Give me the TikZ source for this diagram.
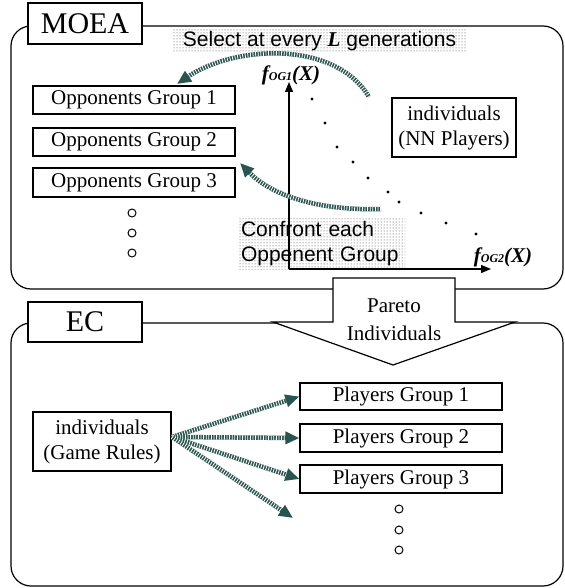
\documentclass[tikz,border=0pt]{standalone}
\usepackage{fontspec}
\setmainfont{Liberation Serif}
\setsansfont{Liberation Sans}
\usetikzlibrary{arrows.meta,patterns}
\definecolor{hatchc}{HTML}{2A554F}
\begin{document}
\begin{tikzpicture}[x=1pt,y=-1pt,
  frame/.style={draw, line width=1.2pt, rounded corners=20pt},
  box/.style={draw, line width=1.2pt, fill=white, inner sep=0pt, align=center,
    font=\fontsize{21}{25}\selectfont},
  title/.style={box, minimum width=114pt, minimum height=41pt, font=\fontsize{30}{32}\selectfont},
  grp/.style={box, minimum width=202pt, minimum height=28pt},
  ring/.style={draw, line width=1pt, circle, inner sep=0pt, minimum size=8pt},
  pdot/.style={fill, circle, inner sep=0pt, minimum size=3.4pt},
  dotted bg/.style={pattern=dots, pattern color=black!75, inner sep=1pt,
    font=\sffamily\fontsize{21}{25}\selectfont},
  axis/.style={line width=1.2pt, -{Triangle[length=10pt,width=8pt]}},
  flabel/.style={font=\bfseries\itshape\fontsize{21}{25}\selectfont, inner sep=0pt},
  harrow/.style={draw=hatchc, line width=4.5pt, -{Triangle[length=14pt,width=12pt]},
    postaction={draw=white, line width=4.5pt, dash pattern=on 0.8pt off 1.8pt, shorten >=14pt, -}}
]
\useasboundingbox (0,0) rectangle (564,588);

% ---------- MOEA part ----------
\draw[frame] (11,26) rectangle (563,289);
\node[title] (moea) at (85,23.5) {MOEA};

\node[dotted bg, minimum width=295pt, minimum height=24pt] (select) at (319.5,41)
  {Select at every {\rmfamily\bfseries\itshape L} generations};
\node[dotted bg, minimum width=166pt, minimum height=51pt, text width=162pt, align=left] (confront) at (322,243.5)
  {Confront each\\Oppenent Group};

\node[grp] (opp1) at (134,100) {Opponents Group 1};
\node[grp] (opp2) at (134,142) {Opponents Group 2};
\node[grp, minimum height=29pt] (opp3) at (134,182.5) {Opponents Group 3};
\node[ring] (oc1) at (132,213) {};
\node[ring] (oc2) at (132,233) {};
\node[ring] (oc3) at (132,253) {};

\node[box, minimum width=124pt, minimum height=59pt] (nn) at (454,127.5) {individuals\\(NN Players)};

% axes
\coordinate (o) at (289,269);
\coordinate (ytip) at (289,82);
\coordinate (xtip) at (491,269);
\draw[axis] (o) -- (ytip);
\draw[axis] (o) -- (xtip);
\node[flabel] (fy) at (291,75) {f{\fontsize{12}{12}\selectfont OG1}(X)};
\node[flabel] (fx) at (503,257) {f{\fontsize{12}{12}\selectfont OG2}(X)};

% Pareto points
\foreach \px/\py [count=\i] in {312/99,325/123,337/147,353/162,368/178,388/192,399/202,421/213,446/223,476/234}
  \node[pdot] (p\i) at (\px,\py) {};

% curved hatched arrows
\coordinate (s1) at (369,97);
\coordinate (e1) at (177,84);
\coordinate (s2) at (381,209);
\coordinate (e2) at (240,163);
\draw[harrow] (s1) .. controls (335,40) and (235,45) .. (e1);
\draw[harrow] (s2) .. controls (320,211) and (272,196) .. (e2);

% ---------- EC part ----------
\draw[frame] (11,323) rectangle (563,586);
\node[title, minimum height=40pt] (ec) at (85,322) {EC};

% Pareto block arrow
\draw[line width=1.2pt, fill=white, line join=miter]
  (333,278) -- (455,278) -- (455,322) -- (515,322) -- (393,365) -- (273,322) -- (333,322) -- cycle;
\node[align=center, font=\fontsize{21}{28}\selectfont, inner sep=0pt] (pareto) at (394,320) {Pareto\\Individuals};

\node[box, minimum width=138pt, minimum height=59pt] (gr) at (102,441.5) {individuals\\(Game Rules)};
\node[grp, minimum height=27pt] (pg1) at (401,396.5) {Players Group 1};
\node[grp] (pg2) at (401,438) {Players Group 2};
\node[grp] (pg3) at (401,479) {Players Group 3};
\node[ring] (pc1) at (399,509) {};
\node[ring] (pc2) at (399,530) {};
\node[ring] (pc3) at (399,550) {};

\coordinate (g0) at (172,437);
\coordinate (e4) at (293,518);
\draw[harrow] (g0) -- (pg1.west);
\draw[harrow] (g0) -- (pg2.west);
\draw[harrow] (g0) -- (pg3.west);
\draw[harrow] (g0) -- (e4);
\end{tikzpicture}
\end{document}
